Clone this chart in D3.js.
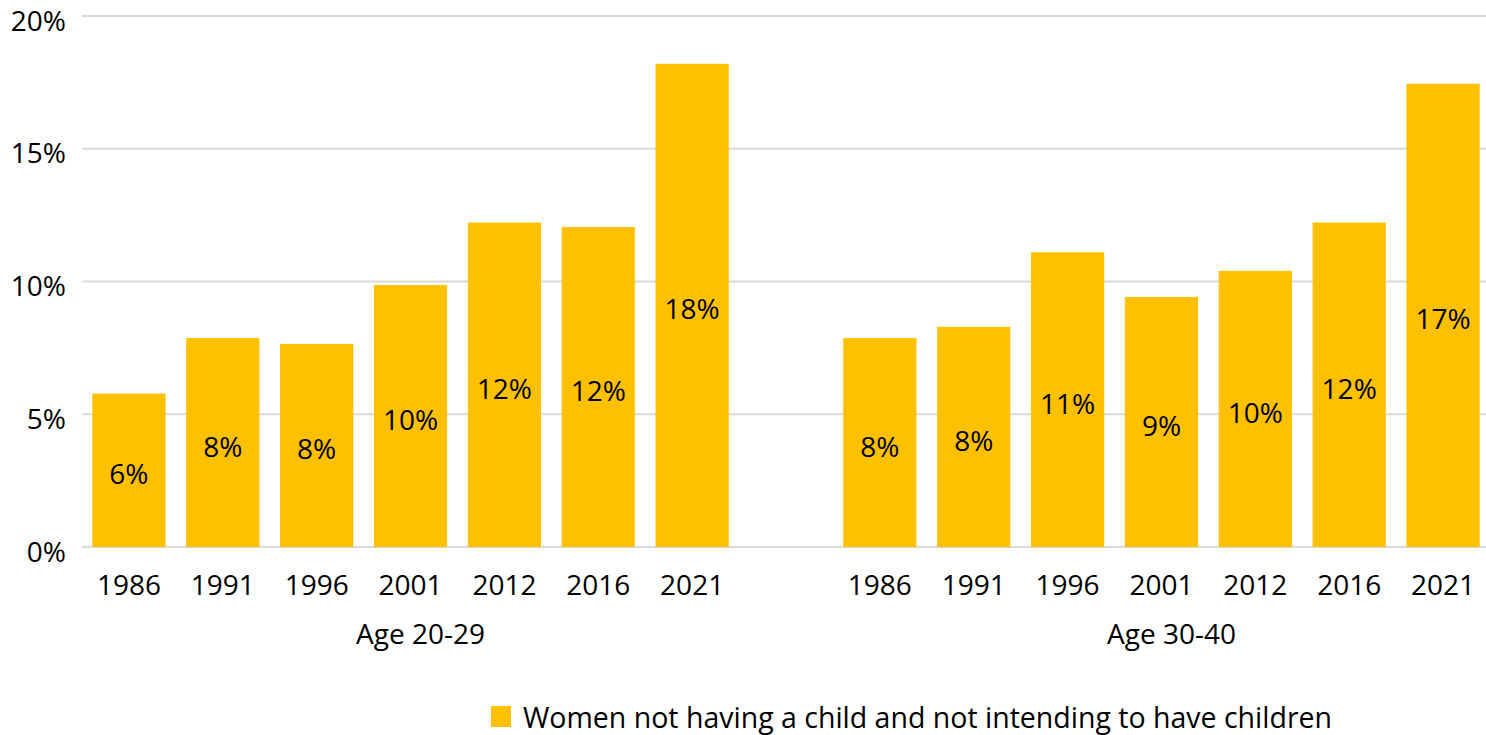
<!DOCTYPE html>
<html>
<head>
<meta charset="utf-8">
<script src="https://cdn.jsdelivr.net/npm/d3@7"></script>
<style>
  body { margin: 0; background: #fff; }
  svg text { font-family: "Open Sans", "Noto Sans", sans-serif; fill: #000; }
</style>
</head>
<body>
<svg id="chart" width="1486" height="735"></svg>
<script>
// data (percent)
const years = ['1986', '1991', '1996', '2001', '2012', '2016', '2021'];
const groups = ['Age 20-29', 'Age 30-40'];
const age2029 = [5.78, 7.87, 7.65, 9.87, 12.22, 12.05, 18.2];
const age3040 = [7.87, 8.29, 11.1, 9.42, 10.4, 12.22, 17.45];
const yTicks = [0, 5, 10, 15, 20];
const legendLabel = 'Women not having a child and not intending to have children';

const seriesByGroup = [age2029, age3040];

// one flat list of slots, with an empty slot between the two groups
const slots = [];
groups.forEach((g, gi) => {
    if (gi > 0) slots.push({ key: 'gap' + gi, gap: true });
    years.forEach((y, i) => slots.push({ key: g + '|' + y, group: g, year: y, value: seriesByGroup[gi][i] }));
});
const bars = slots.filter(d => !d.gap);

const svg = d3.select('#chart');
const plot = { left: 82, right: 1490, top: 16, bottom: 547 };
const fontSize = '28px';

const x = d3.scaleBand()
    .domain(slots.map(d => d.key))
    .range([plot.left, plot.right])
    .paddingInner(0.22)
    .paddingOuter(0.11);

const y = d3.scaleLinear().domain([0, 20]).range([plot.bottom, plot.top]);

// gridlines
svg.append('g')
    .selectAll('line')
    .data(yTicks)
    .join('line')
        .attr('x1', plot.left)
        .attr('x2', 1486)
        .attr('y1', d => y(d))
        .attr('y2', d => y(d))
        .attr('stroke', '#d9d9d9')
        .attr('stroke-width', 2);

// y axis labels
const yAxis = d3.axisLeft(y).tickValues(yTicks).tickFormat(d => d + '%').tickSize(0).tickPadding(0);
const yG = svg.append('g')
    .attr('transform', 'translate(66,0)')
    .call(yAxis);
yG.select('.domain').remove();
yG.attr('font-family', null).attr('font-size', null);
yG.selectAll('text')
    .style('font-size', fontSize)
    .attr('dy', '0.5em');

// bars
svg.append('g')
    .selectAll('rect')
    .data(bars)
    .join('rect')
        .attr('x', d => x(d.key))
        .attr('width', x.bandwidth())
        .attr('y', d => y(d.value))
        .attr('height', d => y(0) - y(d.value))
        .attr('fill', '#ffc000');

// value labels in the middle of each bar
svg.append('g')
    .selectAll('text')
    .data(bars)
    .join('text')
        .attr('x', d => x(d.key) + x.bandwidth() / 2)
        .attr('y', d => (y(d.value) + y(0)) / 2 + 3)
        .attr('text-anchor', 'middle')
        .attr('dominant-baseline', 'central')
        .style('font-size', fontSize)
        .text(d => Math.round(d.value) + '%');

// year labels
svg.append('g')
    .selectAll('text')
    .data(bars)
    .join('text')
        .attr('x', d => x(d.key) + x.bandwidth() / 2)
        .attr('y', 595)
        .attr('text-anchor', 'middle')
        .style('font-size', fontSize)
        .text(d => d.year);

// group labels
svg.append('g')
    .selectAll('text')
    .data(groups)
    .join('text')
        .attr('x', g => {
            const keys = years.map(yr => g + '|' + yr);
            const x0 = x(keys[0]) + x.bandwidth() / 2;
            const x1 = x(keys[keys.length - 1]) + x.bandwidth() / 2;
            return (x0 + x1) / 2 + 10;
        })
        .attr('y', 644)
        .attr('text-anchor', 'middle')
        .style('font-size', fontSize)
        .text(g => g);

// legend
const legend = svg.append('g').attr('transform', 'translate(491,706)');
legend.append('rect')
    .attr('width', 20)
    .attr('height', 21)
    .attr('fill', '#ffc000');
legend.append('text')
    .attr('x', 32)
    .attr('y', 22)
    .style('font-size', '28.5px')
    .text(legendLabel);
</script>
</body>
</html>
